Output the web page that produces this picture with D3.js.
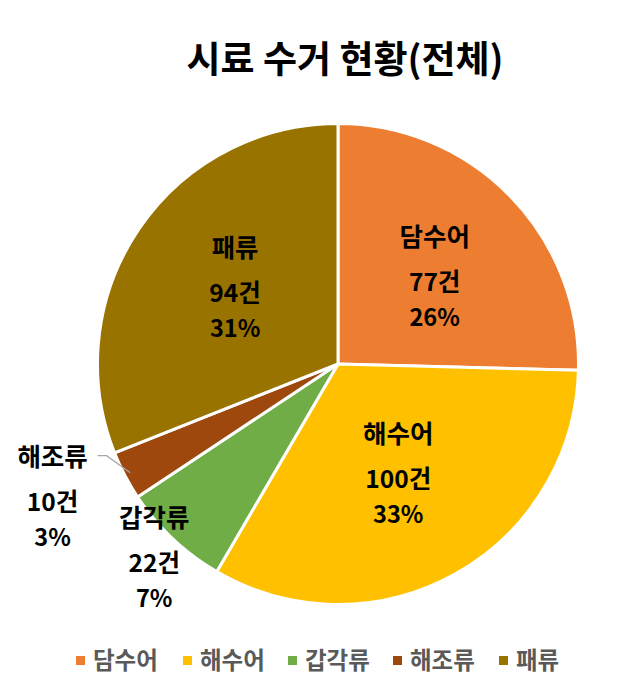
<!DOCTYPE html>
<html>
<head>
<meta charset="utf-8">
<script src="https://cdn.jsdelivr.net/npm/d3@7"></script>
<style>
  body { margin: 0; background: #fff; }
  svg text { font-family: "Noto Sans CJK KR", "Noto Sans", sans-serif; }
</style>
</head>
<body>
<svg id="chart" width="630" height="686"></svg>
<script>
const categories = ["담수어", "해수어", "갑각류", "해조류", "패류"];
const counts = [77, 100, 22, 10, 94];
const percents = ["26%", "33%", "7%", "3%", "31%"];
const colors = ["#ED7D31", "#FFC000", "#70AD47", "#9E480E", "#997300"];

const svg = d3.select("#chart");
const cx = 338, cy = 364, r = 240.5;

svg.append("text")
  .attr("x", 345).attr("y", 73)
  .attr("text-anchor", "middle")
  .attr("font-size", 37).attr("font-weight", "bold")
  .attr("fill", "#000")
  .text("시료 수거 현황(전체)");

const pie = d3.pie().sort(null).value(d => d);
const arcs = pie(counts);
const arc = d3.arc().innerRadius(0).outerRadius(r);

const g = svg.append("g").attr("transform", `translate(${cx},${cy})`);

g.selectAll("path").data(arcs).enter()
  .append("path")
  .attr("d", arc)
  .attr("fill", (d, i) => colors[i])
  .attr("stroke", "#fff").attr("stroke-width", 3)
  .attr("stroke-linejoin", "round");

// label radius: inside for big slices, outside for the small ones
const labelR = i => (counts[i] >= 50 ? 128 : counts[i] >= 20 ? 272 : 312);
const nudge = [[5, 6], [-2, 2], [3, 0], [-9, -8], [3, 0]];
const lineDy = [-45, 0, 35];
const lineSize = [25.5, 24.5, 23.5];

arcs.forEach((d, i) => {
  const a = (d.startAngle + d.endAngle) / 2;
  const x = Math.sin(a) * labelR(i) + nudge[i][0];
  const y = -Math.cos(a) * labelR(i) + nudge[i][1];
  const t = g.append("text")
    .attr("text-anchor", "middle")
    .attr("font-weight", "bold")
    .attr("fill", "#000");
  [categories[i], counts[i] + "건", percents[i]].forEach((s, k) => {
    t.append("tspan").attr("x", x).attr("y", y + lineDy[k] + 10)
      .attr("font-size", lineSize[k]).text(s);
  });
  if (counts[i] < 20) {
    const edge = d3.arc().innerRadius(r - 6).outerRadius(r - 6).centroid(d);
    g.append("polyline")
      .attr("points", [[edge[0], edge[1]], [x + 54, y - 45], [x + 45, y - 45]].join(" "))
      .attr("fill", "none").attr("stroke", "#A6A6A6").attr("stroke-width", 1.2);
  }
});

// legend
const legendX = [76, 183, 288, 393, 499];
const lg = svg.append("g");
categories.forEach((c, i) => {
  lg.append("rect").attr("x", legendX[i]).attr("y", 656)
    .attr("width", 9).attr("height", 9).attr("fill", colors[i]);
  lg.append("text").attr("x", legendX[i] + 17).attr("y", 669)
    .attr("font-size", 23.5).attr("font-weight", "bold").attr("fill", "#595959")
    .text(c);
});
</script>
</body>
</html>
